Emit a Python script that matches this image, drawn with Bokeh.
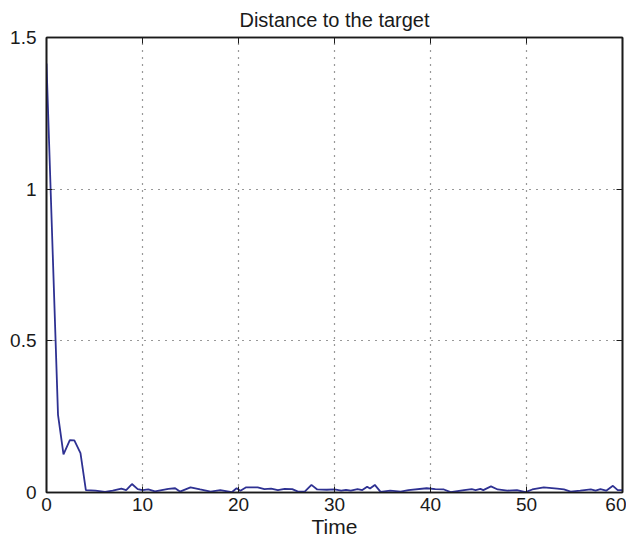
from bokeh.plotting import figure
from bokeh.models import LinearAxis, FixedTicker, Range1d
from bokeh.embed import file_html
from bokeh.resources import INLINE

# Data
time = [0.0, 1.2, 1.77, 2.43, 2.9, 3.54, 4.1, 5.1, 6.1, 6.9, 7.8, 8.3, 8.9, 9.5,
        10.0, 10.6, 11.3, 12.7, 13.4, 13.9, 15.0, 16.0, 17.1, 18.1, 19.3, 19.8,
        20.2, 20.8, 22.0, 22.7, 23.4, 24.1, 24.8, 25.6, 26.2, 26.9, 27.6, 28.2,
        29.2, 30.0, 30.7, 31.2, 31.7, 32.4, 32.9, 33.4, 33.7, 34.2, 34.8, 35.8,
        36.9, 37.7, 39.6, 40.5, 41.4, 42.1, 43.5, 44.3, 44.7, 45.2, 45.5, 46.3,
        47.0, 48.0, 49.0, 49.9, 50.6, 51.8, 53.2, 53.9, 54.6, 55.6, 56.7, 57.2,
        57.7, 58.3, 59.0, 59.5, 60.0]
distance = [1.414, 0.256, 0.126, 0.173, 0.172, 0.13, 0.008, 0.006, 0.002, 0.006,
            0.013, 0.008, 0.028, 0.011, 0.008, 0.010, 0.004, 0.012, 0.014, 0.003,
            0.017, 0.010, 0.003, 0.008, 0.001, 0.014, 0.006, 0.017, 0.017, 0.011,
            0.013, 0.008, 0.012, 0.011, 0.003, 0.003, 0.025, 0.010, 0.009, 0.010,
            0.006, 0.009, 0.006, 0.011, 0.008, 0.019, 0.013, 0.025, 0.002, 0.006,
            0.003, 0.008, 0.014, 0.011, 0.010, 0.001, 0.008, 0.011, 0.008, 0.012,
            0.008, 0.020, 0.010, 0.006, 0.008, 0.001, 0.010, 0.017, 0.013, 0.010,
            0.003, 0.006, 0.010, 0.006, 0.011, 0.006, 0.022, 0.008, 0.008]
x_ticks = [0, 10, 20, 30, 40, 50, 60]
y_ticks = [0, 0.5, 1, 1.5]
y_tick_labels = {0: "0", 0.5: "0.5", 1: "1", 1.5: "1.5"}

FONT = "Liberation Sans"
INK = "#1a1a1a"

p = figure(width=626, height=540, output_backend="svg", toolbar_location=None,
           x_range=Range1d(0, 60), y_range=Range1d(0, 1.5),
           title="Distance to the target",
           min_border_left=46, min_border_right=4, min_border_top=36,
           min_border_bottom=10)

p.title.align = "center"
p.title.text_font = FONT
p.title.text_font_size = "20px"
p.title.text_font_style = "normal"
p.title.text_color = INK
p.title.standoff = 13

p.line(time, distance, line_color="#2e3192", line_width=1.8)

p.xaxis.ticker = FixedTicker(ticks=x_ticks)
p.yaxis.ticker = FixedTicker(ticks=y_ticks)
p.yaxis.major_label_overrides = y_tick_labels
p.xaxis.axis_label = "Time"

for ax in [p.xaxis[0], p.yaxis[0]]:
    ax.major_tick_in = 6
    ax.major_tick_out = 0
    ax.minor_tick_in = 0
    ax.minor_tick_out = 0
    ax.axis_line_color = INK
    ax.axis_line_width = 1.6
    ax.major_tick_line_color = INK
    ax.major_label_text_font = FONT
    ax.major_label_text_font_size = "19px"
    ax.major_label_text_color = INK
    ax.axis_label_text_font = FONT
    ax.axis_label_text_font_size = "21px"
    ax.axis_label_text_font_style = "normal"
    ax.axis_label_text_color = INK
p.xaxis.major_label_standoff = 5
p.xaxis.axis_label_standoff = 1
p.yaxis.major_label_standoff = 10

for side, tick in (("above", x_ticks), ("right", y_ticks)):
    ax = LinearAxis(ticker=FixedTicker(ticks=tick))
    ax.major_label_overrides = {t: "" for t in tick}
    ax.major_tick_in = 6
    ax.major_tick_out = 0
    ax.minor_tick_in = 0
    ax.minor_tick_out = 0
    ax.major_label_standoff = 0
    ax.axis_line_color = INK
    ax.axis_line_width = 1.6
    ax.major_tick_line_color = INK
    p.add_layout(ax, side)

p.xgrid.ticker = FixedTicker(ticks=x_ticks)
p.ygrid.ticker = FixedTicker(ticks=y_ticks)
p.grid.grid_line_color = "#333333"
p.grid.grid_line_dash = "1 6"
p.grid.grid_line_width = 1.2
p.outline_line_color = INK
p.outline_line_width = 1.6
p.background_fill_color = "white"
p.border_fill_color = "white"

open("out.html", "w").write(file_html(p, INLINE))
